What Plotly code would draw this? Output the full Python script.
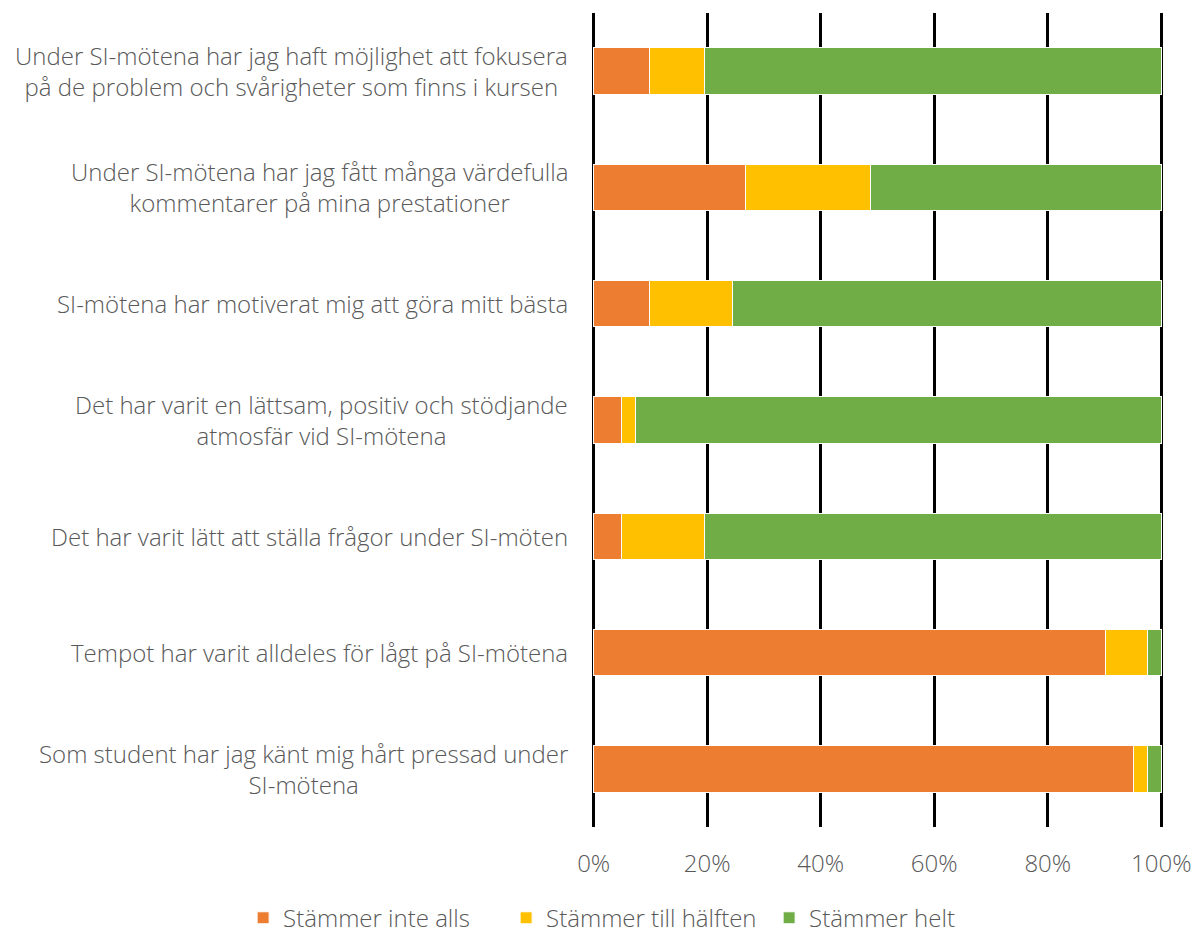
import plotly.graph_objects as go

categories = [
    "Under SI-mötena har jag haft möjlighet att fokusera<br>på de problem och svårigheter som finns i kursen",
    "Under SI-mötena har jag fått många värdefulla<br>kommentarer på mina prestationer",
    "SI-mötena har motiverat mig att göra mitt bästa",
    "Det har varit en lättsam, positiv och stödjande<br>atmosfär vid SI-mötena",
    "Det har varit lätt att ställa frågor under SI-möten",
    "Tempot har varit alldeles för lågt på SI-mötena",
    "Som student har jag känt mig hårt pressad under<br>SI-mötena",
]
series_names = ["Stämmer inte alls", "Stämmer till hälften", "Stämmer helt"]
# counts out of 41 respondents
inte_alls = [4, 11, 4, 2, 2, 37, 39]
till_halften = [4, 9, 6, 1, 6, 3, 1]
helt = [33, 21, 31, 38, 33, 1, 1]
colors = ["#ED7D31", "#FFC000", "#70AD47"]
tick_vals = [0, 0.2, 0.4, 0.6, 0.8, 1.0]
tick_text = ["0%", "20%", "40%", "60%", "80%", "100%"]

totals = [a + b + c for a, b, c in zip(inte_alls, till_halften, helt)]
font = "Open Sans"
txt = "#595959"
fsize = 24

fig = go.Figure()
for name, vals, col in zip(series_names, [inte_alls, till_halften, helt], colors):
    fig.add_trace(go.Bar(
        y=categories, x=[v / t for v, t in zip(vals, totals)], name=name,
        orientation="h", marker=dict(color=col, line=dict(color="white", width=1)),
    ))

for c in categories:
    fig.add_annotation(
        x=0, xref="paper", xanchor="right", xshift=-22, y=c, yref="y",
        text=c, showarrow=False, align="center",
        font=dict(family=font, size=fsize, color=txt, weight=300),
    )

fig.update_layout(
    barmode="stack", bargap=0.6,
    width=1200, height=933,
    margin=dict(l=592, r=37, t=13, b=106, autoexpand=False),
    paper_bgcolor="white", plot_bgcolor="white",
    font=dict(family=font, size=fsize, color=txt, weight=300),
    legend=dict(orientation="h", x=-0.611, xref="paper", xanchor="left",
                y=-0.112, yref="paper", yanchor="middle",
                font=dict(family=font, size=fsize, color=txt, weight=300),
                traceorder="normal", itemwidth=30, entrywidth=218),
    xaxis=dict(range=[-0.003, 1.003], tickvals=tick_vals, ticktext=tick_text,
               showgrid=True, gridcolor="black", gridwidth=3, zeroline=False,
               showline=False, ticks="", ticklabelstandoff=20,
               tickfont=dict(family=font, size=fsize, color=txt, weight=300)),
    yaxis=dict(autorange="reversed", showticklabels=False, showgrid=False,
               showline=False, ticks=""),
)
fig.write_html("out.html", config={"displayModeBar": False},
               post_script="document.body.style.margin='0';")
